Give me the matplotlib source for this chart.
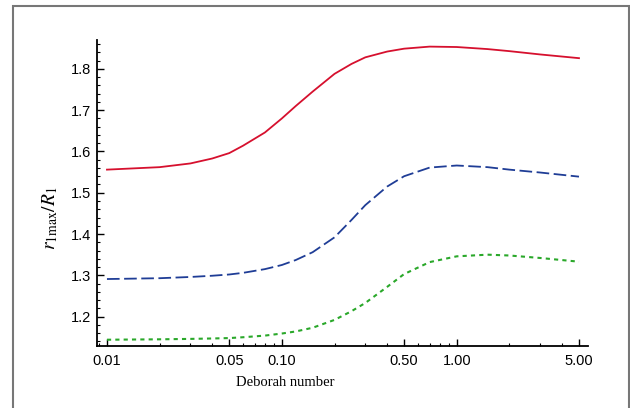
import matplotlib.pyplot as plt
from matplotlib.patches import Rectangle
from matplotlib.ticker import LogLocator, FixedLocator, FixedFormatter, MultipleLocator

plt.rcParams['mathtext.fontset'] = 'stix'

# Deborah number samples and r_1max/R_1 for the three cases
de = [0.01, 0.02, 0.03, 0.04, 0.05, 0.06, 0.08, 0.10, 0.12, 0.15, 0.2,
      0.25, 0.3, 0.4, 0.5, 0.7, 1.0, 1.5, 2.0, 3.0, 5.0]
r_red = [1.556, 1.562, 1.571, 1.583, 1.596, 1.614, 1.646, 1.680, 1.710,
         1.745, 1.788, 1.812, 1.828, 1.842, 1.849, 1.854, 1.853, 1.848,
         1.843, 1.835, 1.826]
r_blue = [1.291, 1.293, 1.296, 1.299, 1.302, 1.306, 1.315, 1.325, 1.337,
          1.356, 1.392, 1.434, 1.470, 1.515, 1.540, 1.561, 1.566, 1.562,
          1.556, 1.549, 1.539]
r_green = [1.144, 1.145, 1.146, 1.147, 1.148, 1.150, 1.154, 1.159, 1.164,
           1.173, 1.192, 1.213, 1.233, 1.272, 1.303, 1.332, 1.346, 1.350,
           1.348, 1.342, 1.333]

xticks = [0.01, 0.05, 0.10, 0.50, 1.00, 5.00]
xtick_labels = ['0.01', '0.05', '0.10', '0.50', '1.00', '5.00']
yticks = [1.2, 1.3, 1.4, 1.5, 1.6, 1.7, 1.8]

fig = plt.figure(figsize=(6.3, 4.08), dpi=100)
ax = fig.add_axes([97 / 630, 1 - 345.5 / 408, 491 / 630, 305.5 / 408])

ax.plot(de, r_red, color='#d6102e', lw=1.3)
ax.plot(de, r_blue, color='#1f3d96', lw=1.3, dashes=(7, 2.5))
ax.plot(de, r_green, color='#2aa82a', lw=1.5, dashes=(2, 2))

ax.set_xscale('log')
ax.set_xlim(0.00877, 5.63)
ax.set_ylim(1.13, 1.87)

ax.xaxis.set_major_locator(FixedLocator(xticks))
ax.xaxis.set_major_formatter(FixedFormatter(xtick_labels))
ax.xaxis.set_minor_locator(LogLocator(base=10, subs=range(2, 10)))
ax.xaxis.set_minor_formatter(FixedFormatter([]))
ax.set_yticks(yticks)
ax.yaxis.set_minor_locator(MultipleLocator(0.02))

for s in ['top', 'right']:
    ax.spines[s].set_visible(False)
for s in ['left', 'bottom']:
    ax.spines[s].set_linewidth(1.3)

ax.tick_params(which='major', direction='in', length=5, width=1,
               labelsize=10.5)
ax.tick_params(axis='y', which='major', pad=4)
ax.tick_params(axis='x', which='major', pad=6)
ax.tick_params(which='minor', direction='in', length=2.5, width=0.8)
for lab in ax.get_xticklabels() + ax.get_yticklabels():
    lab.set_family('Liberation Sans')

ax.set_xlabel('Deborah number', family='Liberation Serif', fontsize=10.5,
              labelpad=6)
ax.xaxis.label.set_x(0.383)
ax.set_ylabel(r'$r_{1\mathrm{max}}/R_1$', fontsize=14, labelpad=8)
ax.yaxis.label.set_y(0.417)

# outer frame
fig.patches.append(Rectangle((13 / 630, -0.05), 616 / 630, 1.05 - 6.5 / 408,
                             transform=fig.transFigure, fill=False,
                             edgecolor='#777777', lw=1.5))

fig.savefig('out.png', dpi=100)
